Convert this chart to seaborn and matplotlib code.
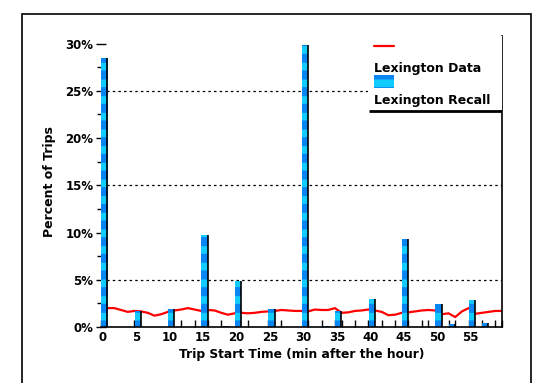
import numpy as np
import pandas as pd
import seaborn as sns
import matplotlib.pyplot as plt
from matplotlib.patches import Rectangle

# recall survey: share of trips reported at each minute
recall_minutes = [0, 5, 10, 15, 18, 20, 25, 30, 33, 35, 40, 45, 50, 52, 55, 57]
recall_pct = [28.5, 1.7, 1.9, 9.7, 0.1, 4.9, 1.9, 29.9, 0.1, 1.7, 3.0, 9.3, 2.4, 0.3, 2.9, 0.4]

# GPS data: share of trips per minute (0..60)
data_minutes = list(range(61))
data_pct = [2.0, 2.0, 2.0, 1.8, 1.6, 1.7, 1.65, 1.5, 1.2, 1.35,
            1.6, 1.75, 1.85, 2.0, 1.85, 1.7, 1.8, 1.75, 1.5, 1.3,
            1.45, 1.5, 1.45, 1.5, 1.6, 1.65, 1.7, 1.8, 1.75, 1.7,
            1.7, 1.65, 1.85, 1.8, 1.8, 2.0, 1.5, 1.55, 1.7, 1.75,
            1.85, 1.75, 1.6, 1.25, 1.3, 1.5, 1.55, 1.65, 1.75, 1.8,
            1.75, 1.35, 1.45, 1.05, 1.65, 2.0, 1.4, 1.5, 1.6, 1.7, 1.7]

x_labels = [0, 5, 10, 15, 20, 25, 30, 35, 40, 45, 50, 55]
x_minor = [0, 5, 12, 14, 16, 18, 22, 25, 27, 31, 33, 35, 36, 38, 40, 42, 44, 46, 48, 49, 52, 53, 55, 57, 59, 60]
y_labels = [0, 5, 10, 15, 20, 25, 30]
grid_levels = [5, 15, 25]

LIGHT = '#12CCFF'
DARK = '#0A86F2'

sns.set_style('white')
plt.rcParams['font.family'] = ['DejaVu Sans']
plt.rcParams['hatch.linewidth'] = 6.5
plt.rcParams['text.color'] = 'black'
plt.rcParams['axes.labelcolor'] = 'black'
plt.rcParams['xtick.color'] = 'black'
plt.rcParams['ytick.color'] = 'black'

rec = pd.DataFrame({'minute': recall_minutes, 'pct': recall_pct})
gps = pd.DataFrame({'minute': data_minutes, 'pct': data_pct})

fig = plt.figure(figsize=(5.33, 3.83), dpi=100)
ax = fig.add_axes([101 / 533, 56 / 383, 401 / 533, 291 / 383])

for lvl in grid_levels:
    ax.axhline(lvl, color='black', ls=(0, (2, 2.5)), lw=0.9, zorder=0)

sns.lineplot(data=gps, x='minute', y='pct', color='red', lw=1.6, ax=ax, zorder=1)
sns.histplot(data=rec, x='minute', weights='pct', binwidth=1, binrange=(0, 60), shrink=0.95,
             color=LIGHT, edgecolor=DARK, linewidth=0, hatch='-', alpha=1, ax=ax, zorder=2)
ax.vlines(rec['minute'] + 0.97, 0, rec['pct'], color='black', lw=1.2, zorder=3)

ax.set_xlim(0, 60)
ax.set_ylim(0, 30.8)
ax.set_xticks([v + 0.3 for v in x_labels])
ax.set_xticklabels([str(v) for v in x_labels], fontsize=8.5, fontweight='bold')
ax.set_xticks(x_minor, minor=True)
ax.tick_params(axis='x', which='major', length=0, pad=3)
ax.tick_params(axis='x', which='minor', direction='in', length=5, width=1, color='black')
ax.set_yticks(y_labels)
ax.set_yticklabels([f'{v}%' for v in y_labels], fontsize=8.5, fontweight='bold')
ax.set_yticks(np.arange(2.5, 30, 5), minor=True)
ax.tick_params(axis='y', which='major', direction='inout', length=7, width=1, color='black', pad=2)
ax.tick_params(axis='y', which='minor', direction='out', length=3, width=1, color='black')
ax.yaxis.set_ticks_position('left')
ax.xaxis.set_ticks_position('bottom')

for side in ['top', 'left']:
    ax.spines[side].set_visible(False)
ax.spines['bottom'].set_color('black')
ax.spines['bottom'].set_linewidth(1.2)
ax.spines['right'].set_color('black')
ax.spines['right'].set_linewidth(1.2)

ax.set_xlabel('Trip Start Time (min after the hour)', fontsize=8.8, fontweight='bold', labelpad=3)
ax.set_ylabel('Percent of Trips', fontsize=9, fontweight='bold', labelpad=7)

# legend box drawn by hand: handles sit above their labels
ax.add_patch(Rectangle((0.665, 0.745), 0.335, 0.255, transform=ax.transAxes,
                       facecolor='white', edgecolor='none', zorder=4))
ax.plot([0.668, 1.0], [0.742, 0.742], transform=ax.transAxes, color='black', lw=2, zorder=5,
        solid_capstyle='butt')
ax.plot([0.68, 0.73], [0.966, 0.966], transform=ax.transAxes, color='red', lw=1.6, zorder=5)
ax.text(0.68, 0.89, 'Lexington Data', transform=ax.transAxes, fontsize=9, fontweight='bold',
        va='center', ha='left', zorder=5)
ax.add_patch(Rectangle((0.68, 0.821), 0.05, 0.045, transform=ax.transAxes, facecolor=LIGHT,
                       edgecolor=DARK, lw=0, hatch='-', zorder=5))
ax.text(0.68, 0.777, 'Lexington Recall', transform=ax.transAxes, fontsize=9, fontweight='bold',
        va='center', ha='left', zorder=5)

# outer frame around the figure
fig.patches.append(Rectangle((22 / 533, -0.05), 509 / 533, 369 / 383 + 0.05,
                             transform=fig.transFigure, fill=False, edgecolor='black', lw=1.2))

plt.savefig('out.png', dpi=100)
plt.close()
